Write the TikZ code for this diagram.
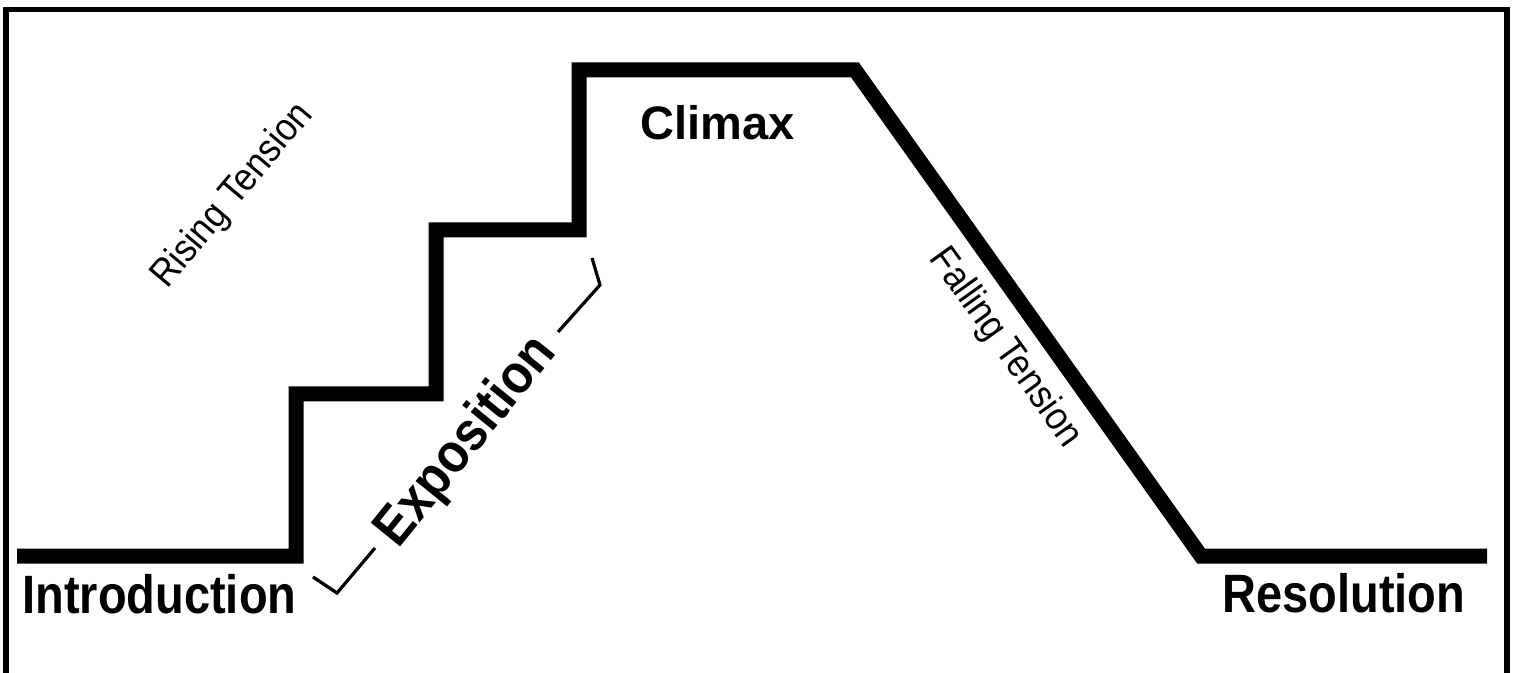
\documentclass[tikz,border=0pt]{standalone}
\usepackage{fontspec}
\usepackage{graphicx}
\setmainfont{Liberation Sans}
\newcommand{\squeeze}[2]{\scalebox{#1}[1]{#2}}
\tikzset{
  curve/.style={line width=7.5pt, line join=miter, line cap=butt},
  framebar/.style={line width=2.75pt},
  bracketline/.style={line width=1.6pt, line join=miter},
  bigbold/.style={inner sep=0pt, font=\fontsize{27}{32}\selectfont\bfseries},
  smalltext/.style={inner sep=0pt, font=\fontsize{19.5}{23}\selectfont}
}
\begin{document}
\begin{tikzpicture}[x=0.5pt,y=-0.5pt]
\useasboundingbox (0,0) rectangle (1515,673);
% frame (bottom side lies outside the picture)
\draw[framebar] (6,690) -- (6,9.5) -- (1507,9.5) -- (1507,690);
% tension curve
\coordinate (a) at (17,556);
\coordinate (b) at (296,556);
\coordinate (c) at (296,394);
\coordinate (d) at (436,394);
\coordinate (e) at (436,230);
\coordinate (f) at (579,230);
\coordinate (g) at (579,70);
\coordinate (h) at (855,70);
\coordinate (i) at (1201,556);
\coordinate (j) at (1487,556);
\draw[curve] (a) -- (b) -- (c) -- (d) -- (e) -- (f) -- (g) -- (h) -- (i) -- (j);
% exposition bracket
\coordinate (bl1) at (313,577);
\coordinate (bl2) at (337,593);
\coordinate (bl3) at (375,548);
\coordinate (br1) at (558,332);
\coordinate (br2) at (600,285);
\coordinate (br3) at (592,258);
\draw[bracketline] (bl1) -- (bl2) -- (bl3);
\draw[bracketline] (br1) -- (br2) -- (br3);
% labels
\node[bigbold, anchor=base west] (intro) at (22,613) {\squeeze{0.87}{Introduction}};
\node[bigbold, anchor=base west] (resol) at (1222,612) {\squeeze{0.87}{Resolution}};
\node[inner sep=0pt, anchor=base west, font=\fontsize{23.5}{28}\selectfont\bfseries] (climax) at (640,140) {Climax};
\node[inner sep=0pt, anchor=center, rotate=51, font=\fontsize{27.5}{32}\selectfont\bfseries] (expo) at (467,442) {\squeeze{0.9}{Exposition}};
\node[smalltext, rotate=50] (rising) at (233,196) {\squeeze{0.9}{Rising Tension}};
\node[smalltext, rotate=-54.4] (falling) at (1005,348) {\squeeze{0.9}{Falling Tension}};
\end{tikzpicture}
\end{document}
